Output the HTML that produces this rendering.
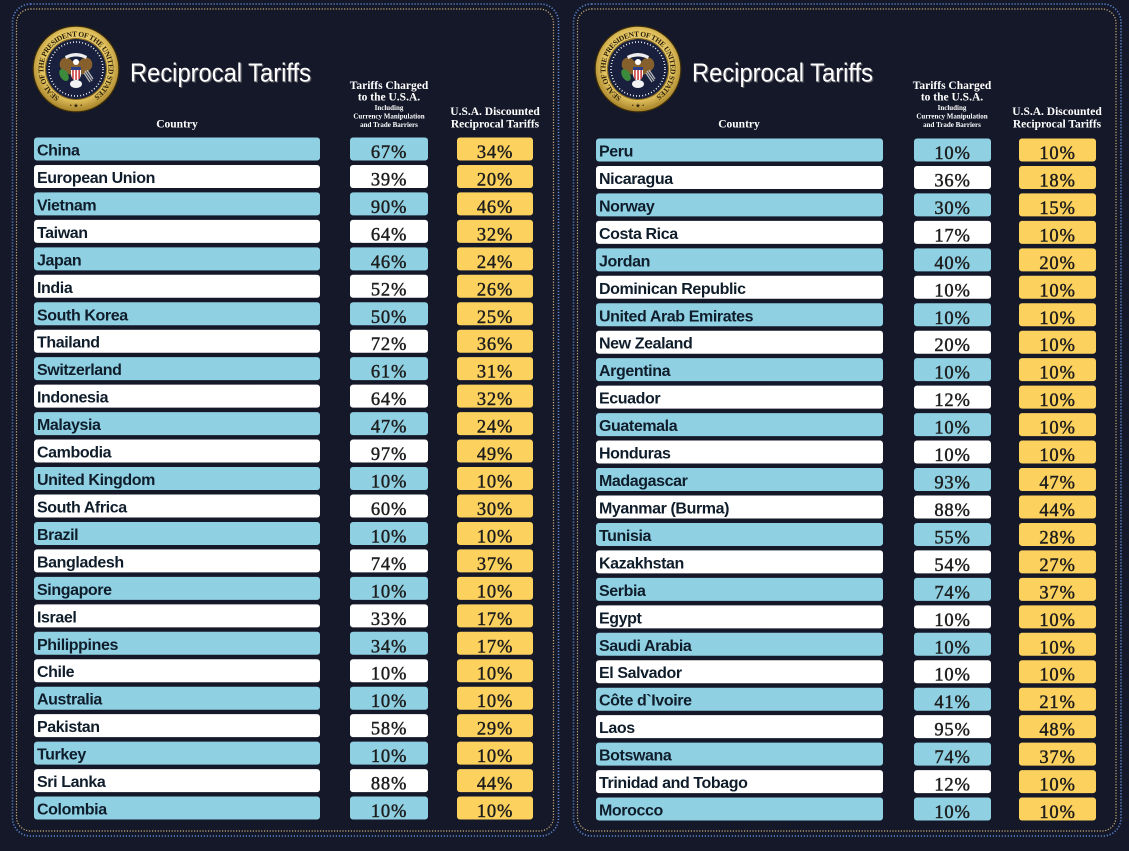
<!DOCTYPE html>
<html><head><meta charset="utf-8"><style>
html,body{margin:0;padding:0;background:#151829;}
svg{display:block;}
.b{fill:#8fd0e3}.w{fill:#ffffff}.y{fill:#fcd15d}
.c{font-family:"Liberation Sans",sans-serif;font-weight:bold;font-size:16px;letter-spacing:-0.4px;fill:#0f1d2b}
.p{font-family:"Liberation Serif",serif;font-size:18.5px;letter-spacing:0.8px;text-anchor:middle;fill:#1d1d1d;stroke:#1d1d1d;stroke-width:0.45px}
.h{font-family:"Liberation Serif",serif;font-weight:bold;font-size:11.5px;fill:#ffffff;text-anchor:middle}
.s{font-family:"Liberation Serif",serif;font-weight:bold;font-size:7px;fill:#ffffff;text-anchor:middle}
.t{font-family:"Liberation Sans",sans-serif;font-size:26px;}
.st{font-family:"Liberation Serif",serif;font-weight:bold;font-size:7.5px;fill:#2a1e08}
</style></head><body>
<svg width="1129" height="851" viewBox="0 0 1129 851" xmlns="http://www.w3.org/2000/svg">
<defs>
<radialGradient id="gd" cx="50%" cy="45%" r="55%">
<stop offset="0" stop-color="#f6e7a6"/><stop offset="0.75" stop-color="#e2c25e"/><stop offset="1" stop-color="#a8832a"/>
</radialGradient>
</defs>
<rect width="1129" height="851" fill="#151829"/>

<!-- borders -->
<rect x="12.5" y="4" width="546" height="832" rx="18" fill="none" stroke="#5a86cf" stroke-width="1.6" stroke-dasharray="1.2 1.8"/>
<rect x="16.5" y="9" width="537" height="822" rx="14" fill="none" stroke="#c8b07a" stroke-width="1.2" stroke-dasharray="1.2 1.6"/>
<rect x="573.5" y="4" width="547.5" height="832" rx="18" fill="none" stroke="#5a86cf" stroke-width="1.6" stroke-dasharray="1.2 1.8"/>
<rect x="577.5" y="9" width="538.5" height="822" rx="14" fill="none" stroke="#c8b07a" stroke-width="1.2" stroke-dasharray="1.2 1.6"/>

<!-- LEFT seal -->
<g transform="translate(76,69)">
<circle r="43.5" fill="#3a2c0a"/>
<circle r="42.3" fill="url(#gd)"/>
<circle r="30.5" fill="none" stroke="#8a6a1c" stroke-width="1"/>
<path id="sp1" d="M0,32.5 A32.5,32.5 0 1,1 0,-32.5 A32.5,32.5 0 1,1 0,32.5" fill="none"/>
<text class="st"><textPath href="#sp1" startOffset="17" textLength="168" lengthAdjust="spacing">SEAL OF THE PRESIDENT OF THE UNITED STATES</textPath></text>
<text x="0" y="38.5" text-anchor="middle" font-size="6" fill="#2a1e08" font-family="Liberation Serif">• ★ •</text>
<circle r="30" fill="#18203d"/>
<circle r="27" fill="none" stroke="#ffffff" stroke-width="1.6" stroke-dasharray="0.9 2.2"/>
<path d="M-16,-2 C-18,-12 -8,-14 -4,-8 L4,-8 C8,-14 18,-12 16,-2 C12,4 8,6 0,6 C-8,6 -12,4 -16,-2Z" fill="#86602c"/>
<path d="M-11,-13 Q0,-19 11,-13 L10,-10 Q0,-15 -10,-10Z" fill="#eeeeee"/>
<circle cx="0" cy="-7" r="3" fill="#ffffff"/>
<path d="M-5,-2 H5 V5 Q5,10 0,12 Q-5,10 -5,5Z" fill="#ffffff"/>
<rect x="-5" y="-2" width="10" height="3" fill="#2a3f8a"/>
<rect x="-3.8" y="1" width="1.5" height="9" fill="#c83333"/>
<rect x="-0.7" y="1" width="1.5" height="10" fill="#c83333"/>
<rect x="2.4" y="1" width="1.5" height="9" fill="#c83333"/>
<ellipse cx="-12" cy="6" rx="4" ry="6.5" fill="#3c8a3c" transform="rotate(-30 -12 6)"/>
<path d="M9,2 L16,12 M11,1 L17,10 M8,4 L14,13" stroke="#b8b8b8" stroke-width="1.3"/>
<ellipse cx="0" cy="15" rx="6" ry="4" fill="#f2f2f2"/>
</g>
<text class="t" x="131.2" y="82.7" textLength="181" lengthAdjust="spacingAndGlyphs" fill="#5e5e66">Reciprocal Tariffs</text>
<text class="t" x="130" y="81.5" textLength="181" lengthAdjust="spacingAndGlyphs" fill="#ffffff">Reciprocal Tariffs</text>

<!-- RIGHT seal -->
<g transform="translate(638,69)">
<circle r="43.5" fill="#3a2c0a"/>
<circle r="42.3" fill="url(#gd)"/>
<circle r="30.5" fill="none" stroke="#8a6a1c" stroke-width="1"/>
<path id="sp2" d="M0,32.5 A32.5,32.5 0 1,1 0,-32.5 A32.5,32.5 0 1,1 0,32.5" fill="none"/>
<text class="st"><textPath href="#sp2" startOffset="17" textLength="168" lengthAdjust="spacing">SEAL OF THE PRESIDENT OF THE UNITED STATES</textPath></text>
<text x="0" y="38.5" text-anchor="middle" font-size="6" fill="#2a1e08" font-family="Liberation Serif">• ★ •</text>
<circle r="30" fill="#18203d"/>
<circle r="27" fill="none" stroke="#ffffff" stroke-width="1.6" stroke-dasharray="0.9 2.2"/>
<path d="M-16,-2 C-18,-12 -8,-14 -4,-8 L4,-8 C8,-14 18,-12 16,-2 C12,4 8,6 0,6 C-8,6 -12,4 -16,-2Z" fill="#86602c"/>
<path d="M-11,-13 Q0,-19 11,-13 L10,-10 Q0,-15 -10,-10Z" fill="#eeeeee"/>
<circle cx="0" cy="-7" r="3" fill="#ffffff"/>
<path d="M-5,-2 H5 V5 Q5,10 0,12 Q-5,10 -5,5Z" fill="#ffffff"/>
<rect x="-5" y="-2" width="10" height="3" fill="#2a3f8a"/>
<rect x="-3.8" y="1" width="1.5" height="9" fill="#c83333"/>
<rect x="-0.7" y="1" width="1.5" height="10" fill="#c83333"/>
<rect x="2.4" y="1" width="1.5" height="9" fill="#c83333"/>
<ellipse cx="-12" cy="6" rx="4" ry="6.5" fill="#3c8a3c" transform="rotate(-30 -12 6)"/>
<path d="M9,2 L16,12 M11,1 L17,10 M8,4 L14,13" stroke="#b8b8b8" stroke-width="1.3"/>
<ellipse cx="0" cy="15" rx="6" ry="4" fill="#f2f2f2"/>
</g>
<text class="t" x="693.2" y="82.7" textLength="181" lengthAdjust="spacingAndGlyphs" fill="#5e5e66">Reciprocal Tariffs</text>
<text class="t" x="692" y="81.5" textLength="181" lengthAdjust="spacingAndGlyphs" fill="#ffffff">Reciprocal Tariffs</text>

<!-- LEFT headers -->
<text class="h" x="177" y="127.5">Country</text>
<text class="h" x="389" y="89">Tariffs Charged</text>
<text class="h" x="389" y="100.5">to the U.S.A.</text>
<text class="s" x="389" y="110">Including</text>
<text class="s" x="389" y="118.5">Currency Manipulation</text>
<text class="s" x="389" y="127">and Trade Barriers</text>
<text class="h" x="495" y="115">U.S.A. Discounted</text>
<text class="h" x="495" y="127.5">Reciprocal Tariffs</text>

<!-- RIGHT headers -->
<text class="h" x="739" y="127.5">Country</text>
<text class="h" x="952" y="89">Tariffs Charged</text>
<text class="h" x="952" y="100.5">to the U.S.A.</text>
<text class="s" x="952" y="110">Including</text>
<text class="s" x="952" y="118.5">Currency Manipulation</text>
<text class="s" x="952" y="127">and Trade Barriers</text>
<text class="h" x="1057" y="115">U.S.A. Discounted</text>
<text class="h" x="1057" y="127.5">Reciprocal Tariffs</text>

<!-- LEFT rows -->
<g>
<g transform="translate(0,137.5)"><rect class="b" x="34" width="286" height="23" rx="3"/><text class="c" x="37" y="18">China</text><rect class="b" x="350" width="78" height="23" rx="3"/><text class="p" x="389" y="20.5">67%</text><rect class="y" x="457" width="76" height="23" rx="3"/><text class="p" x="495" y="20.5">34%</text></g>
<g transform="translate(0,164.96)"><rect class="w" x="34" width="286" height="23" rx="3"/><text class="c" x="37" y="18">European Union</text><rect class="w" x="350" width="78" height="23" rx="3"/><text class="p" x="389" y="20.5">39%</text><rect class="y" x="457" width="76" height="23" rx="3"/><text class="p" x="495" y="20.5">20%</text></g>
<g transform="translate(0,192.42)"><rect class="b" x="34" width="286" height="23" rx="3"/><text class="c" x="37" y="18">Vietnam</text><rect class="b" x="350" width="78" height="23" rx="3"/><text class="p" x="389" y="20.5">90%</text><rect class="y" x="457" width="76" height="23" rx="3"/><text class="p" x="495" y="20.5">46%</text></g>
<g transform="translate(0,219.88)"><rect class="w" x="34" width="286" height="23" rx="3"/><text class="c" x="37" y="18">Taiwan</text><rect class="w" x="350" width="78" height="23" rx="3"/><text class="p" x="389" y="20.5">64%</text><rect class="y" x="457" width="76" height="23" rx="3"/><text class="p" x="495" y="20.5">32%</text></g>
<g transform="translate(0,247.34)"><rect class="b" x="34" width="286" height="23" rx="3"/><text class="c" x="37" y="18">Japan</text><rect class="b" x="350" width="78" height="23" rx="3"/><text class="p" x="389" y="20.5">46%</text><rect class="y" x="457" width="76" height="23" rx="3"/><text class="p" x="495" y="20.5">24%</text></g>
<g transform="translate(0,274.8)"><rect class="w" x="34" width="286" height="23" rx="3"/><text class="c" x="37" y="18">India</text><rect class="w" x="350" width="78" height="23" rx="3"/><text class="p" x="389" y="20.5">52%</text><rect class="y" x="457" width="76" height="23" rx="3"/><text class="p" x="495" y="20.5">26%</text></g>
<g transform="translate(0,302.26)"><rect class="b" x="34" width="286" height="23" rx="3"/><text class="c" x="37" y="18">South Korea</text><rect class="b" x="350" width="78" height="23" rx="3"/><text class="p" x="389" y="20.5">50%</text><rect class="y" x="457" width="76" height="23" rx="3"/><text class="p" x="495" y="20.5">25%</text></g>
<g transform="translate(0,329.72)"><rect class="w" x="34" width="286" height="23" rx="3"/><text class="c" x="37" y="18">Thailand</text><rect class="w" x="350" width="78" height="23" rx="3"/><text class="p" x="389" y="20.5">72%</text><rect class="y" x="457" width="76" height="23" rx="3"/><text class="p" x="495" y="20.5">36%</text></g>
<g transform="translate(0,357.18)"><rect class="b" x="34" width="286" height="23" rx="3"/><text class="c" x="37" y="18">Switzerland</text><rect class="b" x="350" width="78" height="23" rx="3"/><text class="p" x="389" y="20.5">61%</text><rect class="y" x="457" width="76" height="23" rx="3"/><text class="p" x="495" y="20.5">31%</text></g>
<g transform="translate(0,384.64)"><rect class="w" x="34" width="286" height="23" rx="3"/><text class="c" x="37" y="18">Indonesia</text><rect class="w" x="350" width="78" height="23" rx="3"/><text class="p" x="389" y="20.5">64%</text><rect class="y" x="457" width="76" height="23" rx="3"/><text class="p" x="495" y="20.5">32%</text></g>
<g transform="translate(0,412.1)"><rect class="b" x="34" width="286" height="23" rx="3"/><text class="c" x="37" y="18">Malaysia</text><rect class="b" x="350" width="78" height="23" rx="3"/><text class="p" x="389" y="20.5">47%</text><rect class="y" x="457" width="76" height="23" rx="3"/><text class="p" x="495" y="20.5">24%</text></g>
<g transform="translate(0,439.56)"><rect class="w" x="34" width="286" height="23" rx="3"/><text class="c" x="37" y="18">Cambodia</text><rect class="w" x="350" width="78" height="23" rx="3"/><text class="p" x="389" y="20.5">97%</text><rect class="y" x="457" width="76" height="23" rx="3"/><text class="p" x="495" y="20.5">49%</text></g>
<g transform="translate(0,467.02)"><rect class="b" x="34" width="286" height="23" rx="3"/><text class="c" x="37" y="18">United Kingdom</text><rect class="b" x="350" width="78" height="23" rx="3"/><text class="p" x="389" y="20.5">10%</text><rect class="y" x="457" width="76" height="23" rx="3"/><text class="p" x="495" y="20.5">10%</text></g>
<g transform="translate(0,494.48)"><rect class="w" x="34" width="286" height="23" rx="3"/><text class="c" x="37" y="18">South Africa</text><rect class="w" x="350" width="78" height="23" rx="3"/><text class="p" x="389" y="20.5">60%</text><rect class="y" x="457" width="76" height="23" rx="3"/><text class="p" x="495" y="20.5">30%</text></g>
<g transform="translate(0,521.94)"><rect class="b" x="34" width="286" height="23" rx="3"/><text class="c" x="37" y="18">Brazil</text><rect class="b" x="350" width="78" height="23" rx="3"/><text class="p" x="389" y="20.5">10%</text><rect class="y" x="457" width="76" height="23" rx="3"/><text class="p" x="495" y="20.5">10%</text></g>
<g transform="translate(0,549.4)"><rect class="w" x="34" width="286" height="23" rx="3"/><text class="c" x="37" y="18">Bangladesh</text><rect class="w" x="350" width="78" height="23" rx="3"/><text class="p" x="389" y="20.5">74%</text><rect class="y" x="457" width="76" height="23" rx="3"/><text class="p" x="495" y="20.5">37%</text></g>
<g transform="translate(0,576.86)"><rect class="b" x="34" width="286" height="23" rx="3"/><text class="c" x="37" y="18">Singapore</text><rect class="b" x="350" width="78" height="23" rx="3"/><text class="p" x="389" y="20.5">10%</text><rect class="y" x="457" width="76" height="23" rx="3"/><text class="p" x="495" y="20.5">10%</text></g>
<g transform="translate(0,604.32)"><rect class="w" x="34" width="286" height="23" rx="3"/><text class="c" x="37" y="18">Israel</text><rect class="w" x="350" width="78" height="23" rx="3"/><text class="p" x="389" y="20.5">33%</text><rect class="y" x="457" width="76" height="23" rx="3"/><text class="p" x="495" y="20.5">17%</text></g>
<g transform="translate(0,631.78)"><rect class="b" x="34" width="286" height="23" rx="3"/><text class="c" x="37" y="18">Philippines</text><rect class="b" x="350" width="78" height="23" rx="3"/><text class="p" x="389" y="20.5">34%</text><rect class="y" x="457" width="76" height="23" rx="3"/><text class="p" x="495" y="20.5">17%</text></g>
<g transform="translate(0,659.24)"><rect class="w" x="34" width="286" height="23" rx="3"/><text class="c" x="37" y="18">Chile</text><rect class="w" x="350" width="78" height="23" rx="3"/><text class="p" x="389" y="20.5">10%</text><rect class="y" x="457" width="76" height="23" rx="3"/><text class="p" x="495" y="20.5">10%</text></g>
<g transform="translate(0,686.7)"><rect class="b" x="34" width="286" height="23" rx="3"/><text class="c" x="37" y="18">Australia</text><rect class="b" x="350" width="78" height="23" rx="3"/><text class="p" x="389" y="20.5">10%</text><rect class="y" x="457" width="76" height="23" rx="3"/><text class="p" x="495" y="20.5">10%</text></g>
<g transform="translate(0,714.16)"><rect class="w" x="34" width="286" height="23" rx="3"/><text class="c" x="37" y="18">Pakistan</text><rect class="w" x="350" width="78" height="23" rx="3"/><text class="p" x="389" y="20.5">58%</text><rect class="y" x="457" width="76" height="23" rx="3"/><text class="p" x="495" y="20.5">29%</text></g>
<g transform="translate(0,741.62)"><rect class="b" x="34" width="286" height="23" rx="3"/><text class="c" x="37" y="18">Turkey</text><rect class="b" x="350" width="78" height="23" rx="3"/><text class="p" x="389" y="20.5">10%</text><rect class="y" x="457" width="76" height="23" rx="3"/><text class="p" x="495" y="20.5">10%</text></g>
<g transform="translate(0,769.08)"><rect class="w" x="34" width="286" height="23" rx="3"/><text class="c" x="37" y="18">Sri Lanka</text><rect class="w" x="350" width="78" height="23" rx="3"/><text class="p" x="389" y="20.5">88%</text><rect class="y" x="457" width="76" height="23" rx="3"/><text class="p" x="495" y="20.5">44%</text></g>
<g transform="translate(0,796.54)"><rect class="b" x="34" width="286" height="23" rx="3"/><text class="c" x="37" y="18">Colombia</text><rect class="b" x="350" width="78" height="23" rx="3"/><text class="p" x="389" y="20.5">10%</text><rect class="y" x="457" width="76" height="23" rx="3"/><text class="p" x="495" y="20.5">10%</text></g>
</g>

<!-- RIGHT rows -->
<g transform="translate(562,1)">
<g transform="translate(0,137.5)"><rect class="b" x="34" width="287" height="23" rx="3"/><text class="c" x="37" y="18">Peru</text><rect class="b" x="352" width="77" height="23" rx="3"/><text class="p" x="390.5" y="20.5">10%</text><rect class="y" x="457" width="77" height="23" rx="3"/><text class="p" x="495.5" y="20.5">10%</text></g>
<g transform="translate(0,164.96)"><rect class="w" x="34" width="287" height="23" rx="3"/><text class="c" x="37" y="18">Nicaragua</text><rect class="w" x="352" width="77" height="23" rx="3"/><text class="p" x="390.5" y="20.5">36%</text><rect class="y" x="457" width="77" height="23" rx="3"/><text class="p" x="495.5" y="20.5">18%</text></g>
<g transform="translate(0,192.42)"><rect class="b" x="34" width="287" height="23" rx="3"/><text class="c" x="37" y="18">Norway</text><rect class="b" x="352" width="77" height="23" rx="3"/><text class="p" x="390.5" y="20.5">30%</text><rect class="y" x="457" width="77" height="23" rx="3"/><text class="p" x="495.5" y="20.5">15%</text></g>
<g transform="translate(0,219.88)"><rect class="w" x="34" width="287" height="23" rx="3"/><text class="c" x="37" y="18">Costa Rica</text><rect class="w" x="352" width="77" height="23" rx="3"/><text class="p" x="390.5" y="20.5">17%</text><rect class="y" x="457" width="77" height="23" rx="3"/><text class="p" x="495.5" y="20.5">10%</text></g>
<g transform="translate(0,247.34)"><rect class="b" x="34" width="287" height="23" rx="3"/><text class="c" x="37" y="18">Jordan</text><rect class="b" x="352" width="77" height="23" rx="3"/><text class="p" x="390.5" y="20.5">40%</text><rect class="y" x="457" width="77" height="23" rx="3"/><text class="p" x="495.5" y="20.5">20%</text></g>
<g transform="translate(0,274.8)"><rect class="w" x="34" width="287" height="23" rx="3"/><text class="c" x="37" y="18">Dominican Republic</text><rect class="w" x="352" width="77" height="23" rx="3"/><text class="p" x="390.5" y="20.5">10%</text><rect class="y" x="457" width="77" height="23" rx="3"/><text class="p" x="495.5" y="20.5">10%</text></g>
<g transform="translate(0,302.26)"><rect class="b" x="34" width="287" height="23" rx="3"/><text class="c" x="37" y="18">United Arab Emirates</text><rect class="b" x="352" width="77" height="23" rx="3"/><text class="p" x="390.5" y="20.5">10%</text><rect class="y" x="457" width="77" height="23" rx="3"/><text class="p" x="495.5" y="20.5">10%</text></g>
<g transform="translate(0,329.72)"><rect class="w" x="34" width="287" height="23" rx="3"/><text class="c" x="37" y="18">New Zealand</text><rect class="w" x="352" width="77" height="23" rx="3"/><text class="p" x="390.5" y="20.5">20%</text><rect class="y" x="457" width="77" height="23" rx="3"/><text class="p" x="495.5" y="20.5">10%</text></g>
<g transform="translate(0,357.18)"><rect class="b" x="34" width="287" height="23" rx="3"/><text class="c" x="37" y="18">Argentina</text><rect class="b" x="352" width="77" height="23" rx="3"/><text class="p" x="390.5" y="20.5">10%</text><rect class="y" x="457" width="77" height="23" rx="3"/><text class="p" x="495.5" y="20.5">10%</text></g>
<g transform="translate(0,384.64)"><rect class="w" x="34" width="287" height="23" rx="3"/><text class="c" x="37" y="18">Ecuador</text><rect class="w" x="352" width="77" height="23" rx="3"/><text class="p" x="390.5" y="20.5">12%</text><rect class="y" x="457" width="77" height="23" rx="3"/><text class="p" x="495.5" y="20.5">10%</text></g>
<g transform="translate(0,412.1)"><rect class="b" x="34" width="287" height="23" rx="3"/><text class="c" x="37" y="18">Guatemala</text><rect class="b" x="352" width="77" height="23" rx="3"/><text class="p" x="390.5" y="20.5">10%</text><rect class="y" x="457" width="77" height="23" rx="3"/><text class="p" x="495.5" y="20.5">10%</text></g>
<g transform="translate(0,439.56)"><rect class="w" x="34" width="287" height="23" rx="3"/><text class="c" x="37" y="18">Honduras</text><rect class="w" x="352" width="77" height="23" rx="3"/><text class="p" x="390.5" y="20.5">10%</text><rect class="y" x="457" width="77" height="23" rx="3"/><text class="p" x="495.5" y="20.5">10%</text></g>
<g transform="translate(0,467.02)"><rect class="b" x="34" width="287" height="23" rx="3"/><text class="c" x="37" y="18">Madagascar</text><rect class="b" x="352" width="77" height="23" rx="3"/><text class="p" x="390.5" y="20.5">93%</text><rect class="y" x="457" width="77" height="23" rx="3"/><text class="p" x="495.5" y="20.5">47%</text></g>
<g transform="translate(0,494.48)"><rect class="w" x="34" width="287" height="23" rx="3"/><text class="c" x="37" y="18">Myanmar (Burma)</text><rect class="w" x="352" width="77" height="23" rx="3"/><text class="p" x="390.5" y="20.5">88%</text><rect class="y" x="457" width="77" height="23" rx="3"/><text class="p" x="495.5" y="20.5">44%</text></g>
<g transform="translate(0,521.94)"><rect class="b" x="34" width="287" height="23" rx="3"/><text class="c" x="37" y="18">Tunisia</text><rect class="b" x="352" width="77" height="23" rx="3"/><text class="p" x="390.5" y="20.5">55%</text><rect class="y" x="457" width="77" height="23" rx="3"/><text class="p" x="495.5" y="20.5">28%</text></g>
<g transform="translate(0,549.4)"><rect class="w" x="34" width="287" height="23" rx="3"/><text class="c" x="37" y="18">Kazakhstan</text><rect class="w" x="352" width="77" height="23" rx="3"/><text class="p" x="390.5" y="20.5">54%</text><rect class="y" x="457" width="77" height="23" rx="3"/><text class="p" x="495.5" y="20.5">27%</text></g>
<g transform="translate(0,576.86)"><rect class="b" x="34" width="287" height="23" rx="3"/><text class="c" x="37" y="18">Serbia</text><rect class="b" x="352" width="77" height="23" rx="3"/><text class="p" x="390.5" y="20.5">74%</text><rect class="y" x="457" width="77" height="23" rx="3"/><text class="p" x="495.5" y="20.5">37%</text></g>
<g transform="translate(0,604.32)"><rect class="w" x="34" width="287" height="23" rx="3"/><text class="c" x="37" y="18">Egypt</text><rect class="w" x="352" width="77" height="23" rx="3"/><text class="p" x="390.5" y="20.5">10%</text><rect class="y" x="457" width="77" height="23" rx="3"/><text class="p" x="495.5" y="20.5">10%</text></g>
<g transform="translate(0,631.78)"><rect class="b" x="34" width="287" height="23" rx="3"/><text class="c" x="37" y="18">Saudi Arabia</text><rect class="b" x="352" width="77" height="23" rx="3"/><text class="p" x="390.5" y="20.5">10%</text><rect class="y" x="457" width="77" height="23" rx="3"/><text class="p" x="495.5" y="20.5">10%</text></g>
<g transform="translate(0,659.24)"><rect class="w" x="34" width="287" height="23" rx="3"/><text class="c" x="37" y="18">El Salvador</text><rect class="w" x="352" width="77" height="23" rx="3"/><text class="p" x="390.5" y="20.5">10%</text><rect class="y" x="457" width="77" height="23" rx="3"/><text class="p" x="495.5" y="20.5">10%</text></g>
<g transform="translate(0,686.7)"><rect class="b" x="34" width="287" height="23" rx="3"/><text class="c" x="37" y="18">Côte d`Ivoire</text><rect class="b" x="352" width="77" height="23" rx="3"/><text class="p" x="390.5" y="20.5">41%</text><rect class="y" x="457" width="77" height="23" rx="3"/><text class="p" x="495.5" y="20.5">21%</text></g>
<g transform="translate(0,714.16)"><rect class="w" x="34" width="287" height="23" rx="3"/><text class="c" x="37" y="18">Laos</text><rect class="w" x="352" width="77" height="23" rx="3"/><text class="p" x="390.5" y="20.5">95%</text><rect class="y" x="457" width="77" height="23" rx="3"/><text class="p" x="495.5" y="20.5">48%</text></g>
<g transform="translate(0,741.62)"><rect class="b" x="34" width="287" height="23" rx="3"/><text class="c" x="37" y="18">Botswana</text><rect class="b" x="352" width="77" height="23" rx="3"/><text class="p" x="390.5" y="20.5">74%</text><rect class="y" x="457" width="77" height="23" rx="3"/><text class="p" x="495.5" y="20.5">37%</text></g>
<g transform="translate(0,769.08)"><rect class="w" x="34" width="287" height="23" rx="3"/><text class="c" x="37" y="18">Trinidad and Tobago</text><rect class="w" x="352" width="77" height="23" rx="3"/><text class="p" x="390.5" y="20.5">12%</text><rect class="y" x="457" width="77" height="23" rx="3"/><text class="p" x="495.5" y="20.5">10%</text></g>
<g transform="translate(0,796.54)"><rect class="b" x="34" width="287" height="23" rx="3"/><text class="c" x="37" y="18">Morocco</text><rect class="b" x="352" width="77" height="23" rx="3"/><text class="p" x="390.5" y="20.5">10%</text><rect class="y" x="457" width="77" height="23" rx="3"/><text class="p" x="495.5" y="20.5">10%</text></g>
</g>
</svg>
</body></html>
